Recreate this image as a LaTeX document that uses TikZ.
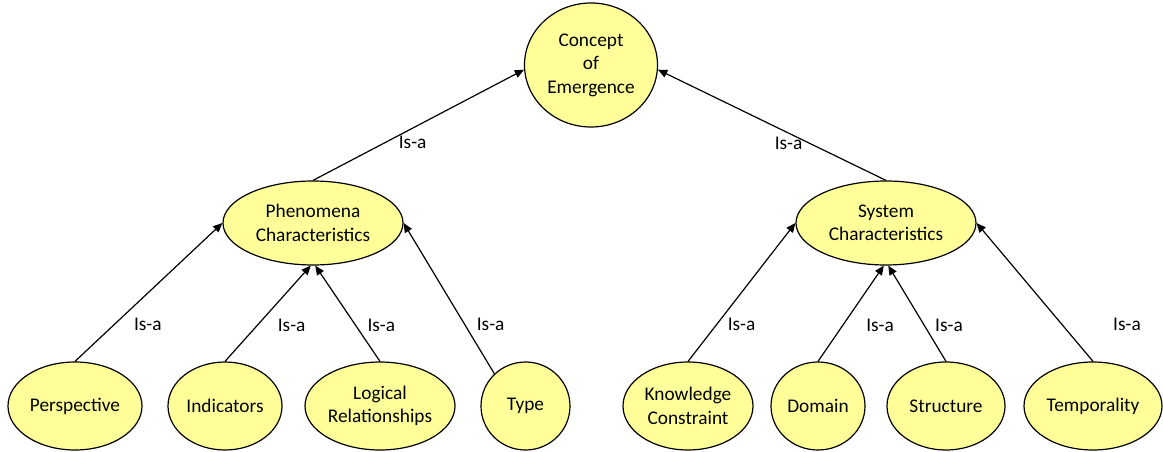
\documentclass[tikz,border=0pt]{standalone}
\usepackage{fontspec}
\setmainfont{Carlito}
\usetikzlibrary{shapes.geometric,arrows.meta}

\begin{document}
\begin{tikzpicture}[
    x=0.75pt, y=-0.75pt,
    idea/.style={draw, ellipse, line width=0.9pt, fill=ideafill, inner sep=0pt, align=center, font=\fontsize{14.5}{17.6}\selectfont},
    leaf/.style={idea, minimum height=66pt},
    isa/.style={font=\fontsize{14.5}{16}\selectfont, inner sep=1pt},
    link/.style={-{Triangle[length=7pt,width=6pt]}, line width=0.9pt}
]

\definecolor{ideafill}{RGB}{255,255,153}

\useasboundingbox (0,0) rectangle (1163,452);

% Top concept
\node[idea, minimum width=99.75pt, minimum height=93pt] (emerg) at (591,65) {Concept\\of\\Emergence};

% Middle level
\node[idea, minimum width=135pt, minimum height=63pt] (phen) at (313,223) {Phenomena\\Characteristics};
\node[idea, minimum width=135pt, minimum height=63pt] (sys) at (886,223) {System\\Characteristics};

% Bottom level
\node[leaf, minimum width=100.5pt] (persp) at (75,406) {Perspective};
\node[leaf, minimum width=85.5pt] (indic) at (225,406) {Indicators};
\node[leaf, minimum width=112.5pt] (logic) at (380,406) {Logical\\Relationships};
\node[leaf, minimum width=66.75pt] (type) at (525.5,406) {Type};
\node[leaf, minimum width=97.5pt] (know) at (688,406) {Knowledge\\Constraint};
\node[leaf, minimum width=70.5pt] (domain) at (818,406) {Domain};
\node[leaf, minimum width=88.5pt] (struct) at (946,406) {Structure};
\node[leaf, minimum width=103.5pt] (temp) at (1093,406) {Temporality};

% Arrows
\draw[link] (phen.north) -- (emerg.184) node[isa, pos=0.472, yshift=-10.8pt] {Is-a};
\draw[link] (sys.north) -- (emerg.-4) node[isa, pos=0.427, yshift=-7.7pt] {Is-a};

\draw[link] (persp.north) -- (phen.west) node[isa, pos=0.266, xshift=25.2pt] {Is-a};
\draw[link] (indic.north) -- (phen.-93) node[isa, pos=0.381, xshift=25.5pt] {Is-a};
\draw[link] (logic.north) -- (phen.-87) node[isa, pos=0.381, xshift=19.5pt] {Is-a};
\draw[link] (type.134) -- (phen.east) node[isa, pos=0.327, xshift=19.5pt] {Is-a};

\draw[link] (know.north) -- (sys.west) node[isa, pos=0.266, xshift=18.75pt] {Is-a};
\draw[link] (domain.north) -- (sys.-93) node[isa, pos=0.381, xshift=27.75pt] {Is-a};
\draw[link] (struct.north) -- (sys.-87) node[isa, pos=0.381, xshift=18.75pt] {Is-a};
\draw[link] (temp.north) -- (sys.east) node[isa, pos=0.266, xshift=48.75pt] {Is-a};

\end{tikzpicture}
\end{document}
